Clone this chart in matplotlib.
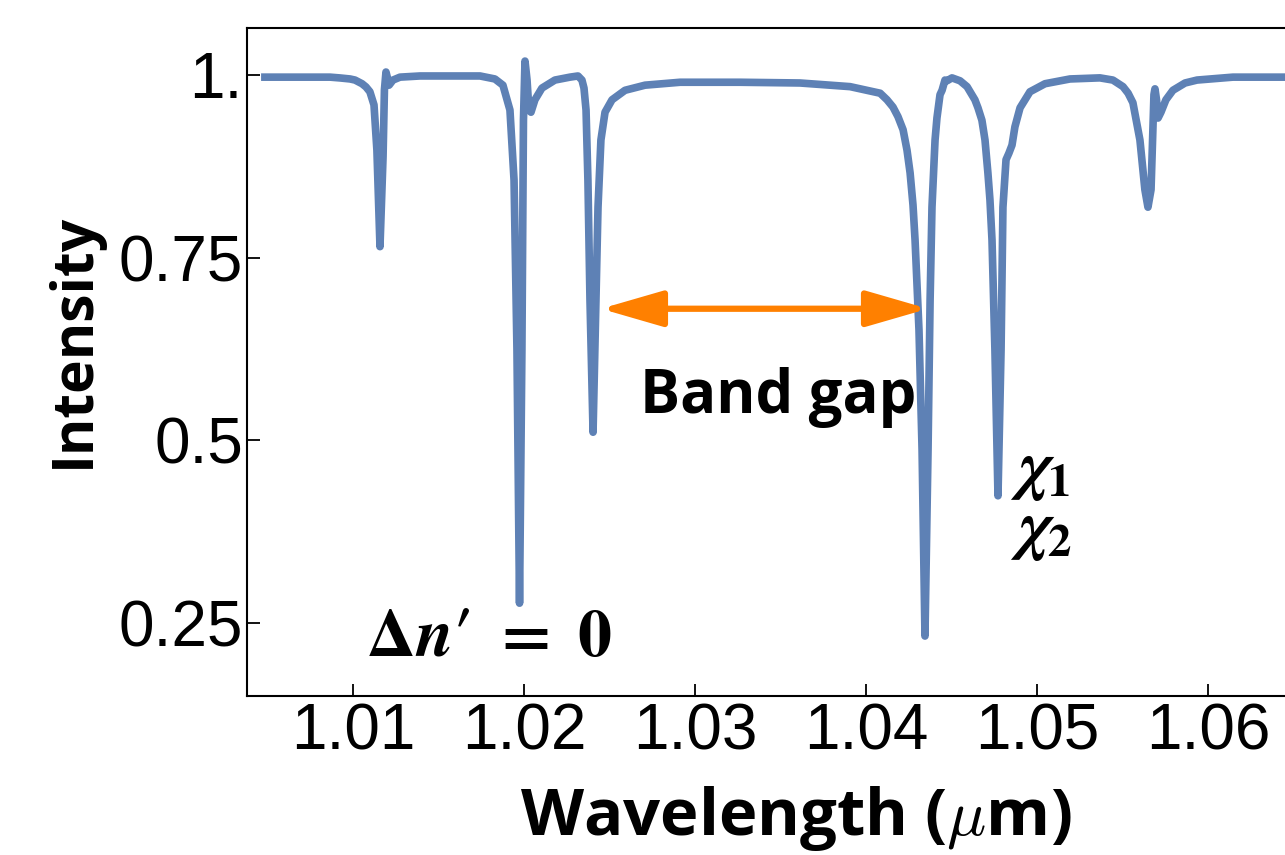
import matplotlib
matplotlib.use("Agg")
import matplotlib.pyplot as plt

# spectrum (wavelength in um, normalised intensity)
wavelength = [
    1.00482, 1.00863, 1.00921, 1.00980, 1.01009, 1.01050, 1.01073, 1.01096,
    1.01120, 1.01137, 1.01155, 1.01173, 1.01181, 1.01190, 1.01202, 1.01208,
    1.01231, 1.01272, 1.01389, 1.01740, 1.01827, 1.01874, 1.01915, 1.01939,
    1.01956, 1.01971, 1.01985, 1.01994, 1.02003, 1.02015, 1.02026, 1.02038,
    1.02061, 1.02102, 1.02178, 1.02266, 1.02313, 1.02336, 1.02348, 1.02360,
    1.02371, 1.02383, 1.02401, 1.02418, 1.02430, 1.02447, 1.02471, 1.02512,
    1.02588, 1.02705, 1.02910, 1.03261, 1.03611, 1.03904, 1.04080, 1.04120,
    1.04155, 1.04184, 1.04214, 1.04237, 1.04255, 1.04272, 1.04284, 1.04307,
    1.04325, 1.04342, 1.04360, 1.04372, 1.04383, 1.04401, 1.04412, 1.04430,
    1.04442, 1.04459, 1.04471, 1.04500, 1.04547, 1.04588, 1.04611, 1.04634,
    1.04652, 1.04675, 1.04693, 1.04710, 1.04722, 1.04734, 1.04751, 1.04769,
    1.04787, 1.04798, 1.04816, 1.04833, 1.04851, 1.04868, 1.04898, 1.04956,
    1.05044, 1.05190, 1.05365, 1.05441, 1.05500, 1.05530, 1.05558, 1.05599,
    1.05628, 1.05646, 1.05664, 1.05673, 1.05681, 1.05687, 1.05696, 1.05705,
    1.05722, 1.05751, 1.05792, 1.05863, 1.05933, 1.06143, 1.06477,
]
intensity = [
    0.997, 0.997, 0.9959, 0.9945, 0.993, 0.988, 0.9836, 0.977,
    0.959, 0.897, 0.765, 0.888, 0.9795, 1.004, 0.993, 0.986,
    0.993, 0.997, 0.9986, 0.9986, 0.9945, 0.986, 0.952, 0.856,
    0.624, 0.277, 0.624, 0.938, 1.019, 0.993, 0.952, 0.949,
    0.966, 0.982, 0.993, 0.997, 0.9986, 0.993, 0.982, 0.952,
    0.856, 0.692, 0.511, 0.692, 0.819, 0.911, 0.949, 0.966,
    0.979, 0.986, 0.990, 0.990, 0.989, 0.984, 0.975, 0.966,
    0.956, 0.943, 0.925, 0.897, 0.866, 0.822, 0.774, 0.651,
    0.487, 0.232, 0.487, 0.692, 0.819, 0.911, 0.941, 0.973,
    0.979, 0.993, 0.992, 0.996, 0.992, 0.984, 0.975, 0.966,
    0.955, 0.938, 0.911, 0.866, 0.829, 0.774, 0.624, 0.424,
    0.624, 0.819, 0.884, 0.893, 0.904, 0.929, 0.955, 0.977,
    0.988, 0.9945, 0.996, 0.993, 0.984, 0.975, 0.962, 0.911,
    0.843, 0.819, 0.843, 0.911, 0.973, 0.981, 0.966, 0.941,
    0.949, 0.966, 0.979, 0.989, 0.993, 0.997, 0.997,
]

yticks = [0.25, 0.5, 0.75, 1.0]
ytick_labels = ["0.25", "0.5", "0.75", "1."]
xticks = [1.01, 1.02, 1.03, 1.04, 1.05, 1.06]
xtick_labels = ["1.01", "1.02", "1.03", "1.04", "1.05", "1.06"]

gap_start, gap_end, gap_level = 1.02447, 1.04360, 0.680

plt.rcParams['mathtext.fontset'] = 'cm'
plt.rcParams['font.family'] = ['Liberation Sans', 'DejaVu Sans']

fig = plt.figure(figsize=(12.85, 8.55), dpi=100)
ax = fig.add_axes([0.1922, 0.186, 0.8078, 0.7818])

ax.plot(wavelength, intensity, color='#5E81B5', lw=5.5, solid_joinstyle='round')

ax.set_xlim(1.003772, 1.064474)
ax.set_ylim(0.150, 1.0649)
ax.set_xticks(xticks)
ax.set_xticklabels(xtick_labels)
ax.set_yticks(yticks)
ax.set_yticklabels(ytick_labels)
ax.tick_params(direction='in', length=9, width=1.3, labelsize=46, pad=5)
ax.tick_params(axis='y', pad=3)
for side in ['left', 'bottom', 'top']:
    ax.spines[side].set_linewidth(1.5)
ax.spines['right'].set_visible(False)

ax.set_xlabel(r'Wavelength ($\mu$m)', family='Open Sans', weight='bold', size=47)
ax.xaxis.set_label_coords(0.529, -0.132)
ax.set_ylabel('Intensity', family='Open Sans', weight='bold', size=41)
ax.yaxis.set_label_coords(-0.139, 0.532)

# band gap arrow
ax.annotate('', xy=(gap_end, gap_level), xytext=(gap_start, gap_level),
            arrowprops=dict(arrowstyle='<|-|>,head_length=1.9,head_width=0.55',
                            mutation_scale=20, color='#FF8000', lw=4.5,
                            shrinkA=0, shrinkB=0))
ax.text(1.03482, 0.559, 'Band gap', ha='center', va='center',
        family='Open Sans', weight='bold', size=43)

ax.text(1.01792, 0.229, r"$\mathbf{\Delta}\boldsymbol{n}\mathbf{\prime}\mathbf{\ =\ 0}$",
        ha='center', va='center', size=49, math_fontfamily='stix')
ax.text(1.04839, 0.456, r'$\boldsymbol{\chi}_{\mathbf{1}}$', ha='left', va='center',
        size=48, math_fontfamily='stix')
ax.text(1.04839, 0.374, r'$\boldsymbol{\chi}_{\mathbf{2}}$', ha='left', va='center',
        size=48, math_fontfamily='stix')

fig.savefig('out.png', dpi=100)
